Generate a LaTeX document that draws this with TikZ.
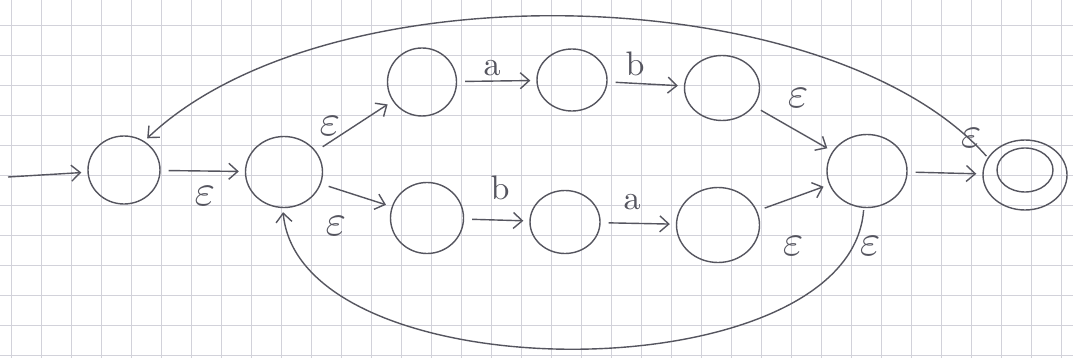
\documentclass[tikz,border=0pt]{standalone}
\usetikzlibrary{arrows.meta,shapes.geometric}
\definecolor{pencil}{RGB}{85,85,95}
\definecolor{gridc}{RGB}{210,210,218}
\newcommand{\eps}{\scalebox{4.4}{$\varepsilon$}}
\newcommand{\sym}[1]{\scalebox{3.4}{#1}}
\begin{document}
\begin{tikzpicture}[x=1pt,y=-1pt,
  state/.style={draw=pencil,line width=1.4pt,ellipse,inner sep=0pt},
  tr/.style={draw=pencil,line width=1.4pt,-{Straight Barb[length=9pt,width=16pt,line width=1.4pt]},shorten >=6pt,shorten <=8pt},
  lab/.style={text=pencil,inner sep=0pt}]
\useasboundingbox (0,0) rectangle (1073,358);
\fill[white] (0,0) rectangle (1073,358);
% grid paper
\foreach \gx in {0,...,35} {\draw[gridc,line width=0.8pt] ({11.7+30*\gx},0) -- ({11.7+30*\gx},358);}
\foreach \gy in {0,...,11} {\draw[gridc,line width=0.8pt] (0,{25+30*\gy}) -- (1073,{25+30*\gy});}
% states
\node[state,minimum width=72pt,minimum height=68pt] (q0) at (124,170) {};
\node[state,minimum width=77pt,minimum height=71pt] (q1) at (284,172) {};
\node[state,minimum width=69pt,minimum height=68pt] (q2) at (422,82) {};
\node[state,minimum width=70pt,minimum height=62pt] (q3) at (572,80) {};
\node[state,minimum width=75pt,minimum height=65pt] (q4) at (722,88) {};
\node[state,minimum width=73pt,minimum height=71pt] (q5) at (427,218) {};
\node[state,minimum width=70pt,minimum height=63pt] (q6) at (565,222) {};
\node[state,minimum width=83pt,minimum height=75pt] (q7) at (718,225) {};
\node[state,minimum width=80pt,minimum height=73pt] (q8) at (867,171) {};
\node[state,minimum width=84pt,minimum height=70pt] (q9) at (1025,175) {};
\node[state,minimum width=56pt,minimum height=44pt] (q9i) at (1025,170) {};
\coordinate (start) at (8,177);
% transitions
\draw[tr,shorten <=0pt] (start) -- (q0);
\draw[tr] (q0) -- (q1);
\draw[tr] (q1) -- (q2);
\draw[tr] (q1) -- (q5);
\draw[tr] (q2) -- (q3);
\draw[tr] (q3) -- (q4);
\draw[tr] (q5) -- (q6);
\draw[tr] (q6) -- (q7);
\draw[tr] (q4) -- (q8);
\draw[tr] (q7) -- (q8);
\draw[tr] (q8) -- (q9);
\draw[tr,shorten <=2pt,shorten >=4pt] (q9.155) .. controls (830,-20) and (330,-35) .. (q0.55);
\draw[tr,shorten <=2pt,shorten >=4pt] (q8.265) .. controls (850,395) and (300,395) .. (q1.268);
% labels
\node[lab] (l01) at (205,196) {\eps};
\node[lab] (l12) at (330,126) {\eps};
\node[lab] (l15) at (336,226) {\eps};
\node[lab] (l23) at (492,68) {\sym{a}};
\node[lab] (l34) at (635,64) {\sym{b}};
\node[lab] (l56) at (500,188) {\sym{b}};
\node[lab] (l67) at (632,202) {\sym{a}};
\node[lab] (l48) at (798,98) {\eps};
\node[lab] (l78) at (793,246) {\eps};
\node[lab] (l80) at (971,138) {\eps};
\node[lab] (l81) at (870,246) {\eps};
\end{tikzpicture}
\end{document}
